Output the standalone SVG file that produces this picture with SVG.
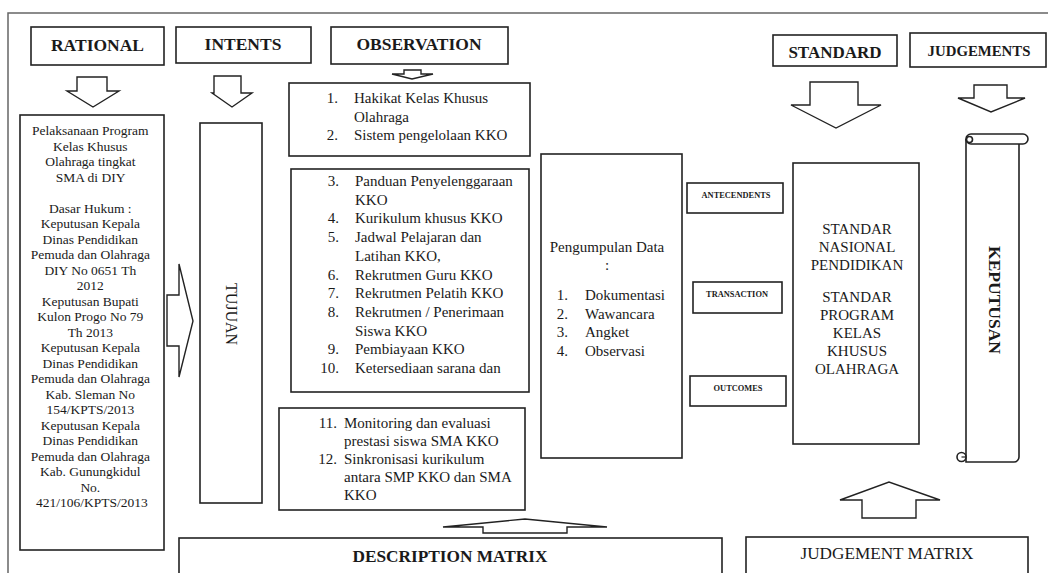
<svg xmlns="http://www.w3.org/2000/svg" width="1048" height="573" viewBox="0 0 1048 573">
<style>
.bx{fill:#fff;stroke:#222;stroke-width:1.6}
.ar{fill:#fff;stroke:#222;stroke-width:1.4;stroke-linejoin:miter}
text{font-family:"Liberation Serif","Times New Roman",serif;fill:#1a1a1a}
.hd{font-weight:bold;font-size:17.5px;text-anchor:middle}
.l{font-size:15px}
.c{text-anchor:middle}
.e{text-anchor:end}
.lt{font-size:13.5px;text-anchor:middle}
.sm{font-size:8.4px;font-weight:bold;text-anchor:middle}
</style>
<rect width="1048" height="573" fill="#fff"/>
<rect x="8" y="13" width="1060" height="580" fill="none" stroke="#666" stroke-width="1.5"/>

<g id="rational">
<rect class="bx" x="31" y="27" width="133" height="38"/>
<text class="hd" x="97.5" y="51">RATIONAL</text>
</g>
<g id="intents">
<rect class="bx" x="176" y="27" width="135" height="36"/>
<text class="hd" x="243" y="50">INTENTS</text>
</g>
<g id="observation">
<rect class="bx" x="331" y="27" width="177" height="37"/>
<text class="hd" x="419" y="50">OBSERVATION</text>
</g>
<g id="standard">
<rect class="bx" x="773" y="35" width="124" height="31"/>
<text class="hd" x="835" y="58" style="font-size:17px">STANDARD</text>
</g>
<g id="judgements">
<rect class="bx" x="910" y="33" width="136" height="34"/>
<text class="hd" x="979" y="56" style="font-size:14.8px">JUDGEMENTS</text>
</g>

<g id="rational-text">
<rect class="bx" x="20" y="115" width="144" height="435"/>
<text class="lt" x="92">
<tspan x="92" y="135">Pelaksanaan Program</tspan>
<tspan x="92" y="150.5">Kelas Khusus</tspan>
<tspan x="92" y="166">Olahraga tingkat</tspan>
<tspan x="92" y="181.5">SMA di DIY</tspan>
<tspan x="92" y="212.5">Dasar Hukum :</tspan>
<tspan x="92" y="228">Keputusan Kepala</tspan>
<tspan x="92" y="243.5">Dinas Pendidikan</tspan>
<tspan x="92" y="259">Pemuda dan Olahraga</tspan>
<tspan x="92" y="274.5">DIY No 0651 Th</tspan>
<tspan x="92" y="290">2012</tspan>
<tspan x="92" y="305.5">Keputusan Bupati</tspan>
<tspan x="92" y="321">Kulon Progo No 79</tspan>
<tspan x="92" y="336.5">Th 2013</tspan>
<tspan x="92" y="352">Keputusan Kepala</tspan>
<tspan x="92" y="367.5">Dinas Pendidikan</tspan>
<tspan x="92" y="383">Pemuda dan Olahraga</tspan>
<tspan x="92" y="398.5">Kab. Sleman No</tspan>
<tspan x="92" y="414">154/KPTS/2013</tspan>
<tspan x="92" y="429.5">Keputusan Kepala</tspan>
<tspan x="92" y="445">Dinas Pendidikan</tspan>
<tspan x="92" y="460.5">Pemuda dan Olahraga</tspan>
<tspan x="92" y="476">Kab. Gunungkidul</tspan>
<tspan x="92" y="491.5">No.</tspan>
<tspan x="92" y="507">421/106/KPTS/2013</tspan>
</text>
</g>

<g id="tujuan">
<rect class="bx" x="200" y="123" width="62" height="380"/>
<text class="c" style="font-size:16px" transform="translate(231,314) rotate(90)" y="5.5">TUJUAN</text>
</g>

<g id="obs-1">
<rect class="bx" x="289" y="83" width="241" height="73"/>
<text class="l e" x="338" y="103">1.</text>
<text class="l" x="354" y="103">Hakikat Kelas Khusus</text>
<text class="l" x="354" y="122">Olahraga</text>
<text class="l e" x="338" y="140">2.</text>
<text class="l" x="354" y="140">Sistem pengelolaan KKO</text>
</g>

<g id="obs-2">
<rect class="bx" x="291" y="169" width="238" height="223"/>
<text class="l e" x="339" y="186">3.</text><text class="l" x="355" y="186">Panduan Penyelenggaraan</text>
<text class="l" x="355" y="204.7">KKO</text>
<text class="l e" x="339" y="223.4">4.</text><text class="l" x="355" y="223.4">Kurikulum khusus KKO</text>
<text class="l e" x="339" y="242.1">5.</text><text class="l" x="355" y="242.1">Jadwal Pelajaran dan</text>
<text class="l" x="355" y="260.8">Latihan KKO,</text>
<text class="l e" x="339" y="279.5">6.</text><text class="l" x="355" y="279.5">Rekrutmen Guru KKO</text>
<text class="l e" x="339" y="298.2">7.</text><text class="l" x="355" y="298.2">Rekrutmen Pelatih KKO</text>
<text class="l e" x="339" y="316.9">8.</text><text class="l" x="355" y="316.9">Rekrutmen / Penerimaan</text>
<text class="l" x="355" y="335.6">Siswa KKO</text>
<text class="l e" x="339" y="354.3">9.</text><text class="l" x="355" y="354.3">Pembiayaan KKO</text>
<text class="l e" x="339" y="373">10.</text><text class="l" x="355" y="373">Ketersediaan sarana dan</text>
</g>

<g id="obs-3">
<rect class="bx" x="279" y="408" width="246" height="102"/>
<text class="l e" x="337" y="428">11.</text><text class="l" x="344" y="428">Monitoring dan evaluasi</text>
<text class="l" x="344" y="446">prestasi siswa SMA KKO</text>
<text class="l e" x="337" y="464">12.</text><text class="l" x="344" y="464">Sinkronisasi kurikulum</text>
<text class="l" x="344" y="482">antara SMP KKO dan SMA</text>
<text class="l" x="344" y="500">KKO</text>
</g>

<g id="pengumpulan">
<rect class="bx" x="541" y="154" width="141" height="304"/>
<text class="l c" x="607" y="252">Pengumpulan Data</text>
<text class="l c" x="607" y="270">:</text>
<text class="l e" x="568" y="300">1.</text><text class="l" x="585" y="300">Dokumentasi</text>
<text class="l e" x="568" y="318.5">2.</text><text class="l" x="585" y="318.5">Wawancara</text>
<text class="l e" x="568" y="337">3.</text><text class="l" x="585" y="337">Angket</text>
<text class="l e" x="568" y="355.5">4.</text><text class="l" x="585" y="355.5">Observasi</text>
</g>

<g id="antecendents">
<rect class="bx" x="687" y="183" width="96" height="30"/>
<text class="sm" x="736" y="198">ANTECENDENTS</text>
</g>
<g id="transaction">
<rect class="bx" x="693" y="282" width="89" height="31"/>
<text class="sm" x="737" y="297">TRANSACTION</text>
</g>
<g id="outcomes">
<rect class="bx" x="690" y="376" width="96" height="30"/>
<text class="sm" x="738" y="391">OUTCOMES</text>
</g>

<g id="standar">
<rect class="bx" x="793" y="163" width="126" height="281"/>
<text class="l c" x="857" y="233.5">STANDAR</text>
<text class="l c" x="857" y="252">NASIONAL</text>
<text class="l c" x="857" y="270">PENDIDIKAN</text>
<text class="l c" x="857" y="302">STANDAR</text>
<text class="l c" x="857" y="320">PROGRAM</text>
<text class="l c" x="857" y="338">KELAS</text>
<text class="l c" x="857" y="356">KHUSUS</text>
<text class="l c" x="857" y="374">OLAHRAGA</text>
</g>

<g id="keputusan">
<path class="bx" d="M966,139 V462 H1014 A5,5 0 0 0 1019,457 V144"/>
<path class="bx" d="M971,134 H1023 A5,5 0 0 1 1023,144 H971 A5,5 0 0 1 971,134 Z"/>
<circle class="bx" cx="969.5" cy="139.5" r="3" stroke-width="1.2"/>
<circle class="bx" cx="961.5" cy="457" r="4.5" stroke-width="1.3"/>
<path d="M961.5,457 h4.5" stroke="#222" stroke-width="1.2" fill="none"/>
<text class="c" style="font-size:17.5px;font-weight:bold" transform="translate(995,300) rotate(90)" y="6">KEPUTUSAN</text>
</g>

<g id="description-matrix">
<rect class="bx" x="179" y="538" width="543" height="60"/>
<text class="hd" x="450" y="562" style="font-size:17.3px">DESCRIPTION MATRIX</text>
</g>
<g id="judgement-matrix">
<rect class="bx" x="746" y="537" width="282" height="60"/>
<text class="c" x="887" y="559" style="font-size:17.2px">JUDGEMENT MATRIX</text>
</g>

<g id="connectors">
<path class="ar" d="M77,77 H107 V91 H119 L93,107 L67,91 H77 Z"/>
<path class="ar" d="M214,76 H241 V93 H252 L232,107 L212,93 H214 Z"/>
<path class="ar" d="M404,70 H421 V74 H433 L412,79 L392,74 H404 Z"/>
<path class="ar" d="M810,82 H858 V105 H881 L836,128 L791,105 H810 Z"/>
<path class="ar" d="M974,85 H1007 V98 H1025 L991,112 L958,98 H974 Z"/>
<path class="ar" d="M167,295 H179 V264 L193,321 L179,377 V346 H167 Z"/>
<path class="ar" d="M483,533 V527 H443 L525,519 L607,527 H567 V533 Z"/>
<path class="ar" d="M862,518 V500 H840 L889,482 L940,500 H916 V518 Z"/>
</g>
</svg>
